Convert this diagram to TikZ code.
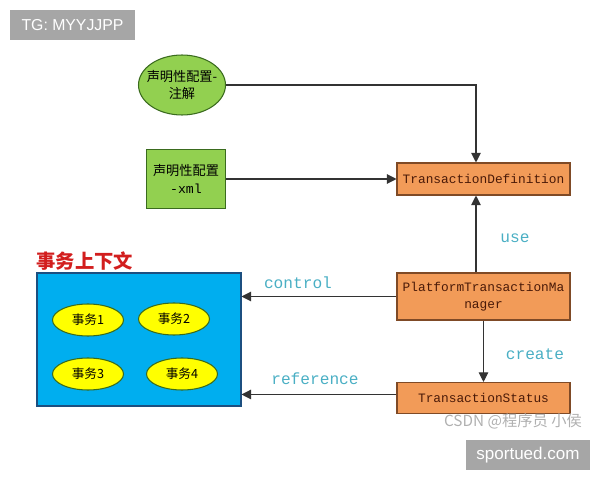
\documentclass[tikz,border=0pt]{standalone}
\usepackage{fontspec}
\usepackage{tikz}
\usetikzlibrary{arrows.meta,positioning,shapes.geometric,calc}
\setmainfont{Liberation Sans}
\setmonofont{Liberation Mono}
\newfontfamily\cjk{Noto Sans CJK SC}
\definecolor{ink}{HTML}{333333}
\definecolor{leaf}{HTML}{92D050}
\definecolor{leafdk}{HTML}{3A6B1E}
\definecolor{amber}{HTML}{F29B58}
\definecolor{amberdk}{HTML}{7F4A26}
\definecolor{brownink}{HTML}{4A1A08}
\definecolor{sky}{HTML}{00AEEF}
\definecolor{skydk}{HTML}{1C4F80}
\definecolor{lemon}{HTML}{FFFF00}
\definecolor{teal}{HTML}{4AAFC4}
\definecolor{title}{HTML}{D21E1E}
\definecolor{wmgray}{HTML}{A6A6A6}
\definecolor{wmtext}{HTML}{B0B0B0}
\tikzset{
  cfgell/.style={ellipse,draw=leafdk,line width=0.6pt,fill=leaf,align=center,inner xsep=-4pt,inner ysep=0pt,font=\cjk\fontsize{7.5}{9.5}\selectfont,minimum width=1.74cm,minimum height=1.2cm},
  cfgbox/.style={draw=leafdk,line width=0.6pt,fill=leaf,align=center,inner sep=0pt,font=\cjk\fontsize{7.5}{10}\selectfont,minimum width=1.58cm,minimum height=1.18cm},
  ifbox/.style={draw=amberdk,line width=0.6pt,fill=amber,align=center,inner sep=0pt,text=brownink,font=\ttfamily\fontsize{7.3}{10}\selectfont,minimum width=3.46cm},
  ctxbox/.style={draw=skydk,line width=0.6pt,fill=sky,inner sep=0pt,minimum width=4.08cm,minimum height=2.66cm},
  txell/.style={ellipse,draw=leafdk,line width=0.6pt,fill=lemon,inner sep=0pt,font=\cjk\fontsize{7.2}{9}\selectfont,minimum width=1.42cm,minimum height=0.64cm},
  lbl/.style={text=teal,font=\ttfamily\fontsize{9.2}{11}\selectfont,inner sep=0pt},
  wmbox/.style={fill=wmgray,text=white,inner sep=0pt,minimum height=0.6cm},
  fl/.style={-{Triangle[length=5.5pt,width=5.5pt]},draw=ink,line width=0.6pt},
}
\begin{document}
\begin{tikzpicture}[x=0.02cm,y=-0.02cm]
\useasboundingbox (0,0) rectangle (600,480);
\node[wmbox,minimum width=2.5cm,font=\fontsize{9}{11}\selectfont] (tg) at (72.5,25) {TG: MYYJJPP};
\node[cfgell] (anno) at (182,85) {声明性配置-\\注解};
\node[cfgbox] (xml) at (186,179) {声明性配置\\{\ttfamily -xml}};
\node[ifbox,minimum height=0.64cm] (tdef) at (483.5,179) {TransactionDefinition};
\node[ifbox,minimum height=0.94cm] (ptm) at (483.5,296.5) {PlatformTransactionMa\\nager};
\node[ifbox,minimum height=0.62cm] (tstat) at (483.5,398) {TransactionStatus};
\node[ctxbox] (ctx) at (139,339.5) {};
\node[text=title,font=\cjk\bfseries\fontsize{11}{13}\selectfont,anchor=south west,inner sep=0pt] (ctxttl) at (36,271) {事务上下文};
\node[txell] (tx1) at (88,320) {事务1};
\node[txell] (tx2) at (174,319) {事务2};
\node[txell] (tx3) at (88,374) {事务3};
\node[txell] (tx4) at (182,374) {事务4};
\node[lbl] (use) at (515,238) {use};
\node[lbl] (ctrl) at (298,283) {control};
\node[lbl] (crt) at (535,354) {create};
\node[lbl] (ref) at (315,379) {reference};
\node[text=wmtext,font=\cjk\fontsize{8.7}{10}\selectfont,inner sep=0pt] (csdn) at (513,421) {CSDN @程序员 小侯};
\node[wmbox,minimum width=2.48cm,font=\fontsize{9.7}{11}\selectfont] (site) at (528,455) {sportued.com};
\coordinate (refout) at ([yshift=2pt]tstat.west);
\draw[fl] (anno.east) -| ([xshift=-0.15cm]tdef.north);
\draw[fl] (xml.east) -- (tdef.west);
\draw[fl] ([xshift=-0.15cm]ptm.north) -- ([xshift=-0.15cm]tdef.south);
\draw[fl] (ptm.south) -- (tstat.north);
\draw[fl] (ptm.west) -- (ctx.east |- ptm.west);
\draw[fl] (refout) -- (ctx.east |- refout);
\end{tikzpicture}
\end{document}
